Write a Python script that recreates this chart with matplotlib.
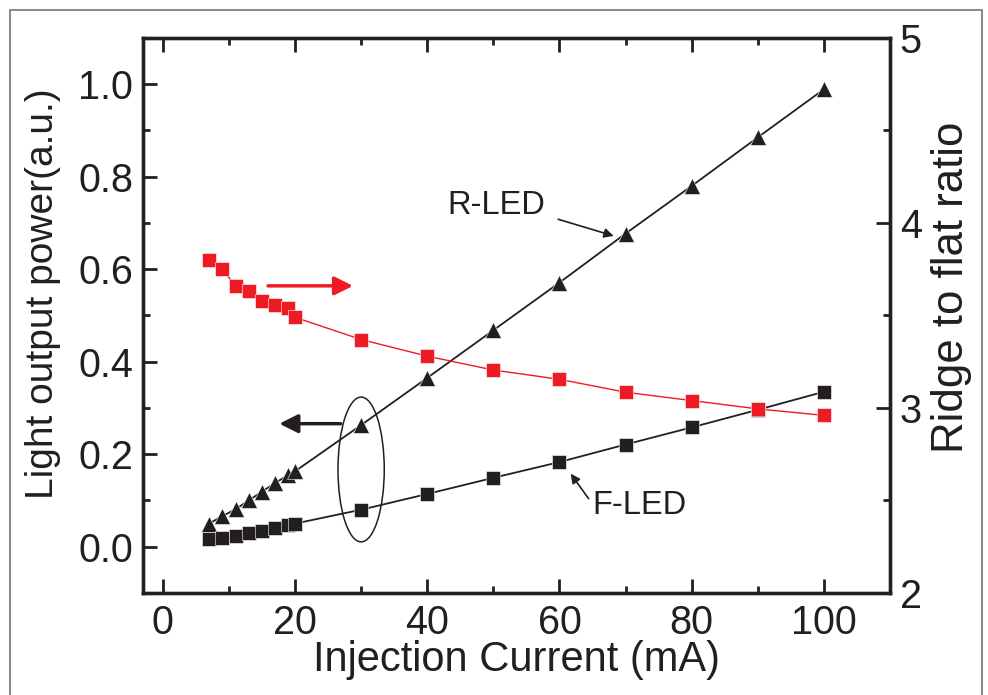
import matplotlib
matplotlib.use("Agg")
import matplotlib.pyplot as plt
from matplotlib.patches import Ellipse, Rectangle
from matplotlib.ticker import MultipleLocator

plt.rcParams["font.family"] = ["Liberation Sans", "DejaVu Sans"]

# data
current = [7, 9, 11, 13, 15, 17, 19, 20, 30, 40, 50, 60, 70, 80, 90, 100]
r_led = [0.050, 0.066, 0.081, 0.100, 0.119, 0.138, 0.155, 0.163, 0.263,
         0.365, 0.468, 0.571, 0.677, 0.780, 0.885, 0.989]
f_led = [0.016, 0.019, 0.024, 0.030, 0.035, 0.040, 0.046, 0.050, 0.080,
         0.114, 0.149, 0.183, 0.221, 0.258, 0.296, 0.335]
ratio = [3.80, 3.75, 3.66, 3.63, 3.58, 3.555, 3.54, 3.49, 3.37,
         3.28, 3.205, 3.155, 3.085, 3.04, 2.995, 2.96]

INK = "#231f20"
RED = "#ed1c24"

fig = plt.figure(figsize=(9.88, 6.95), dpi=100)
ax = fig.add_axes([0.1447, 0.1468, 0.7561, 0.7986])
ax2 = ax.twinx()

ax.plot(current, r_led, color=INK, lw=1.3, marker="^", ms=11.5, mec="white", mew=0.4)
ax.plot(current, f_led, color=INK, lw=1.3, marker="s", ms=9.5, mec="white", mew=0.4)
ax2.plot(current, ratio, color=RED, lw=1.0, marker="s", ms=9.5, mec="white", mew=0.4)

ax.set_xlim(-3, 110)
ax.set_ylim(-0.1, 1.1)
ax2.set_ylim(2, 5)

ax.xaxis.set_major_locator(MultipleLocator(20))
ax.xaxis.set_minor_locator(MultipleLocator(10))
ax.yaxis.set_minor_locator(MultipleLocator(0.1))
ax.set_yticks([0.0, 0.2, 0.4, 0.6, 0.8, 1.0])
ax.yaxis.set_major_formatter(plt.FuncFormatter(lambda v, p: f"{v:.1f}"))
ax2.yaxis.set_major_locator(MultipleLocator(1))
ax2.yaxis.set_minor_locator(MultipleLocator(0.5))

for a in (ax, ax2):
    for s in a.spines.values():
        s.set_linewidth(2.4)
        s.set_color(INK)
ax.tick_params(axis="x", which="both", direction="in", top=True, labelsize=28.5,
               colors=INK, pad=8)
ax.tick_params(axis="y", which="both", direction="in", right=False, labelsize=28.5,
               colors=INK, pad=7)
ax.tick_params(which="major", length=10, width=2)
ax.tick_params(which="minor", length=5, width=2)
ax2.tick_params(axis="y", which="both", direction="in", labelsize=28.5, colors=INK, pad=7)
ax2.tick_params(which="major", length=10, width=2)
ax2.tick_params(which="minor", length=5, width=2)

ax.set_xlabel("Injection Current (mA)", fontsize=30, color=INK, va="center")
ax.xaxis.set_label_coords(0.5, -0.121)
ax.set_ylabel("Light output power(a.u.)", fontsize=28, color=INK,
              va="center", ha="center")
ax.yaxis.set_label_coords(-0.134, 0.54)
ax2.set_ylabel("Ridge to flat ratio", fontsize=31.5, color=INK,
               va="center", ha="center")
ax2.yaxis.set_label_coords(1.083, 0.55)

# grouping ellipse around the 30 mA points
ax.add_patch(Ellipse((30, 0.167), 7, 0.313, fill=False, ec=INK, lw=1.1, zorder=5))

# axis-indicator arrows
ax.annotate("", xy=(29.2, 0.564), xytext=(15.5, 0.564),
            arrowprops=dict(arrowstyle="-|>", color=RED, lw=2.5, mutation_scale=28))
ax.annotate("", xy=(17.2, 0.266), xytext=(27.3, 0.266),
            arrowprops=dict(arrowstyle="-|>", color=INK, lw=2.5, mutation_scale=28))

# labels with pointers
ax.text(43.0, 0.737, "R-LED", fontsize=23.5, color=INK, ha="left", va="center")
ax.annotate("", xy=(68.2, 0.672), xytext=(59.8, 0.708),
            arrowprops=dict(arrowstyle="-|>", color=INK, lw=1.2, mutation_scale=14,
                            shrinkA=0, shrinkB=0))
ax.text(65.0, 0.089, "F-LED", fontsize=23.5, color=INK, ha="left", va="center")
ax.annotate("", xy=(61.7, 0.158), xytext=(64.4, 0.104),
            arrowprops=dict(arrowstyle="-|>", color=INK, lw=1.2, mutation_scale=14,
                            shrinkA=0, shrinkB=0))

# outer gray frame
fig.patches.append(Rectangle((10 / 988, -0.02), 972 / 988, 1.02 - 10 / 695,
                             transform=fig.transFigure, fill=False,
                             ec="#7f7f7f", lw=1.3))

fig.savefig("out.png", dpi=100)
